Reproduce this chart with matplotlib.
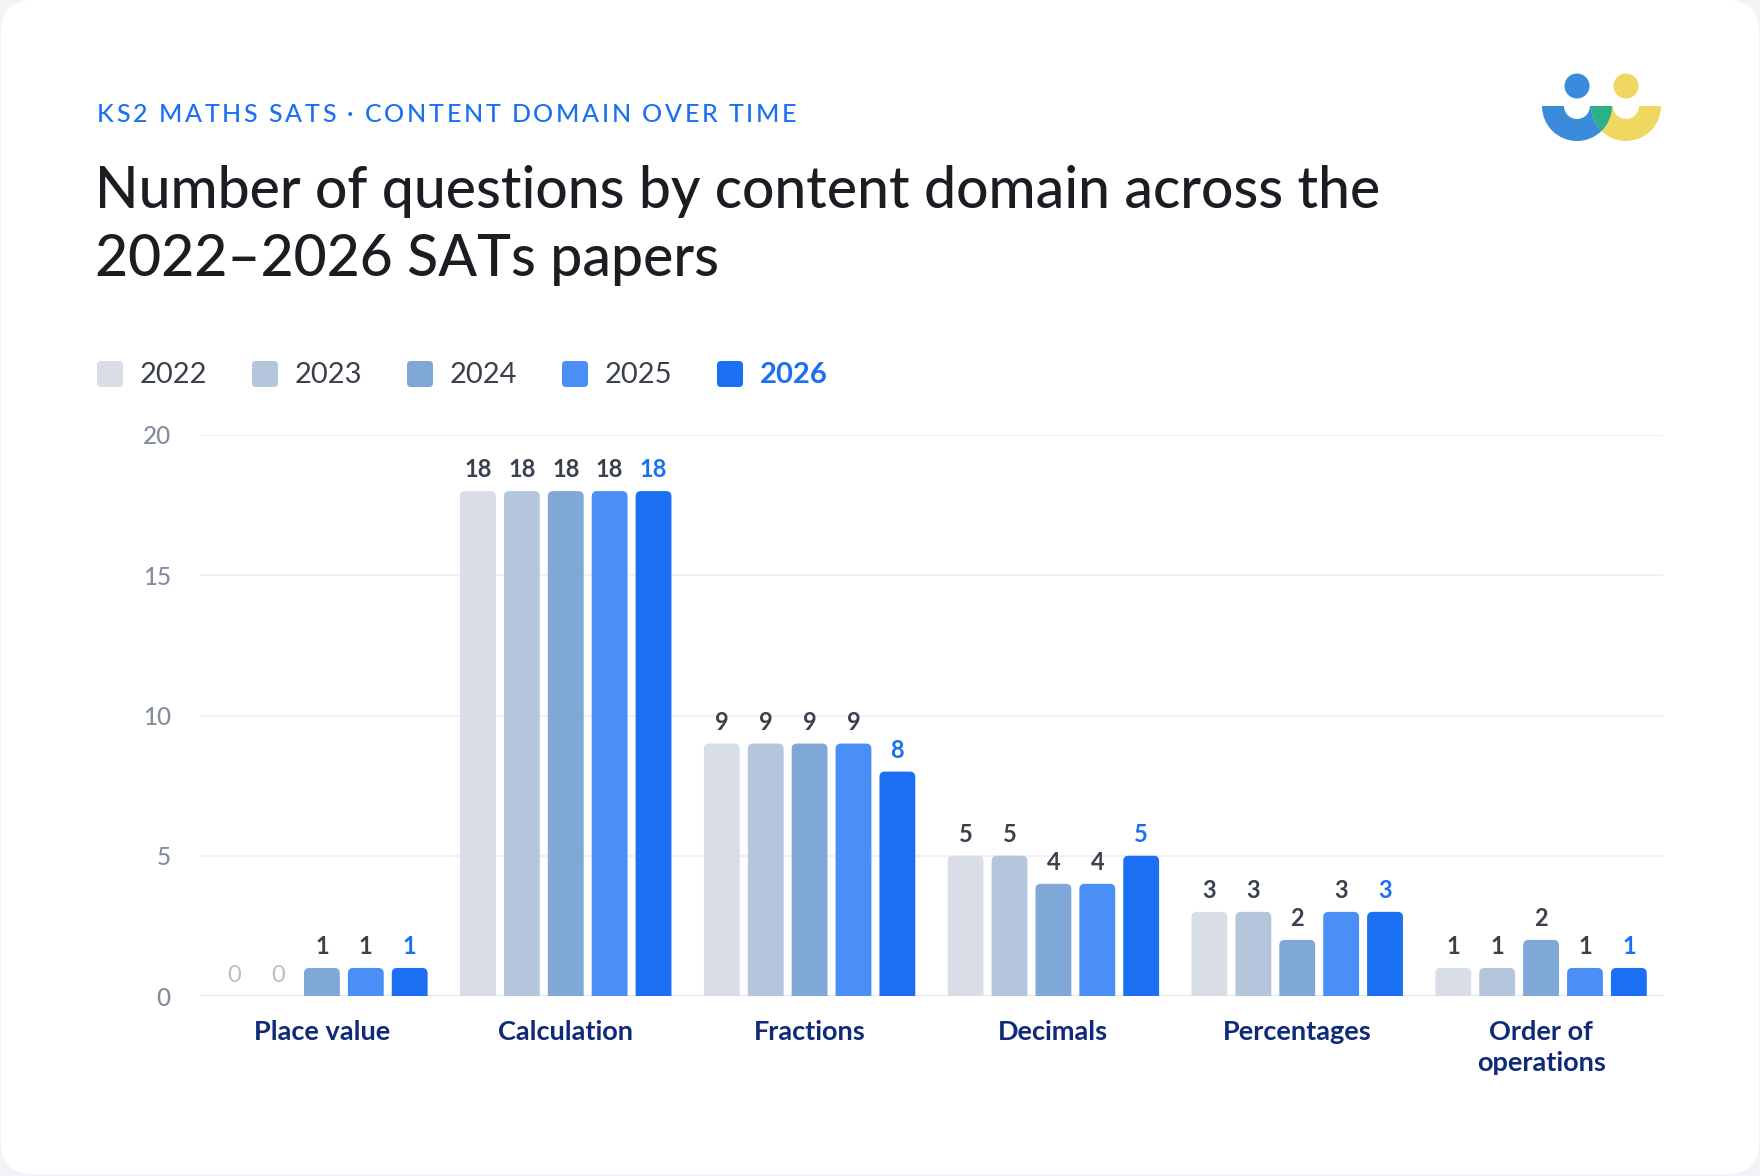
import matplotlib.pyplot as plt
import numpy as np
from matplotlib.patches import FancyBboxPatch, Circle, Wedge

plt.rcParams['font.family'] = ['Lato', 'DejaVu Sans']

categories = ["Place value", "Calculation", "Fractions", "Decimals", "Percentages", "Order of\noperations"]
years = ["2022", "2023", "2024", "2025", "2026"]
q2022 = [0, 18, 9, 5, 3, 1]
q2023 = [0, 18, 9, 5, 3, 1]
q2024 = [1, 18, 9, 4, 2, 2]
q2025 = [1, 18, 9, 4, 3, 1]
q2026 = [1, 18, 8, 5, 3, 1]
series = [q2022, q2023, q2024, q2025, q2026]
colors = ["#d9dee6", "#b4c6dc", "#7fa8d6", "#4a8ff5", "#1a6ff2"]
yticks = [0, 5, 10, 15, 20]

BLUE = "#1a6ff2"
DARK = "#3a404c"
NAVY = "#0f2a78"

W, H = 1760, 1176
fig = plt.figure(figsize=(W / 100, H / 100), dpi=100)
fig.patch.set_facecolor("#f2f3f6")

# overlay in pixel coordinates for card, headings, legend and logo
bg = fig.add_axes([0, 0, 1, 1])
bg.set_xlim(0, W)
bg.set_ylim(H, 0)
bg.axis("off")
bg.add_patch(FancyBboxPatch((1, 0), W - 2, H - 2, boxstyle="round,pad=0,rounding_size=32",
                            fc="white", ec="none"))


def tracked_text(ax, x, y, s, spacing, **kw):
    # draw text letter by letter with extra tracking
    r = fig.canvas.get_renderer()
    inv = ax.transData.inverted()
    for ch in s:
        t = ax.text(x, y, ch, ha="left", va="center", **kw)
        bb = t.get_window_extent(renderer=r)
        x0 = inv.transform((bb.x0, 0))[0]
        x1 = inv.transform((bb.x1, 0))[0]
        if ch == " ":
            x1 = x0 + kw.get("fontsize", 10) * 0.35
        x = x + (x1 - x0) + spacing


tracked_text(bg, 97, 114, "KS2 MATHS SATS · CONTENT DOMAIN OVER TIME", 2.6,
             fontsize=18, color=BLUE, fontweight="medium")
bg.text(95, 191, "Number of questions by content domain across the", fontsize=41,
        color="#1b1d23", fontweight="medium", va="center", ha="left")
bg.text(95, 259, "2022\u20132026 SATs papers", fontsize=41,
        color="#1b1d23", fontweight="medium", va="center", ha="left")

# legend
for i, (yr, c) in enumerate(zip(years, colors)):
    lx = 97 + i * 155
    bg.add_patch(FancyBboxPatch((lx, 361), 26, 26, boxstyle="round,pad=0,rounding_size=4",
                                fc=c, ec="none"))
    last = i == len(years) - 1
    bg.text(lx + 43, 375, yr, fontsize=21, va="center", ha="left",
            color=BLUE if last else DARK, fontweight="bold" if last else "normal")

# logo
bx, yx, ry, hy = 1577, 1626, 106, 86
bg.add_patch(Wedge((bx, ry), 35, 0, 180, width=22, fc="#3a8bdc", ec="none"))
bg.add_patch(Wedge((yx, ry), 35, 0, 180, width=22, fc="#f0d860", ec="none"))
clipw = Wedge((bx, ry), 35, 0, 180, width=22, transform=bg.transData)
g = Wedge((yx, ry), 35, 0, 180, width=22, fc="#2bb087", ec="none")
bg.add_patch(g)
g.set_clip_path(clipw)
bg.add_patch(Circle((bx, hy), 12.5, fc="#3a8bdc", ec="none"))
bg.add_patch(Circle((yx, hy), 12.5, fc="#f0d860", ec="none"))

# main chart
ax = fig.add_axes([200 / W, 1 - 996 / H, 1463 / W, 561 / H])
ax.set_facecolor("none")
x = np.arange(len(categories))
step, bw = 0.18, 0.147
for i, (vals, c) in enumerate(zip(series, colors)):
    pos = x + (i - 2) * step
    bars = ax.bar(pos, vals, width=bw, color=c)
    last = i == len(series) - 1
    for rect, v in zip(bars, vals):
        rect.set_visible(False)
        if v > 0:
            ax.add_patch(FancyBboxPatch((rect.get_x(), -1), rect.get_width(), v + 1,
                                        boxstyle="round,pad=0,rounding_size=0.022",
                                        mutation_aspect=8.7, fc=c, ec="none", zorder=3))
        if v == 0:
            col, wt = "#b9bec7", "normal"
        else:
            col, wt = (BLUE if last else DARK), "bold"
        ax.annotate(str(v), (rect.get_x() + rect.get_width() / 2, v), xytext=(0, 7),
                    textcoords="offset points", ha="center", va="bottom",
                    fontsize=17, color=col, fontweight=wt, annotation_clip=False)

ax.set_xlim(-0.5, len(categories) - 0.5)
ax.set_ylim(0, 20)
ax.set_yticks(yticks)
ax.set_yticklabels([str(t) for t in yticks], fontsize=17.5, color="#838d9e",
                   fontweight="medium")
ax.set_xticks(x)
ax.set_xticklabels(categories, fontsize=19.5, color=NAVY, fontweight="bold", linespacing=1.38)
ax.tick_params(axis="y", length=0, pad=21)
ax.tick_params(axis="x", length=0, pad=17)
for s in ax.spines.values():
    s.set_visible(False)
ax.yaxis.grid(True, color="#eef0f4", lw=1.3)
ax.set_axisbelow(True)
ax.axhline(0, color="#dfe2e8", lw=1.8, zorder=2)

fig.savefig("out.png", dpi=100, facecolor=fig.get_facecolor())
